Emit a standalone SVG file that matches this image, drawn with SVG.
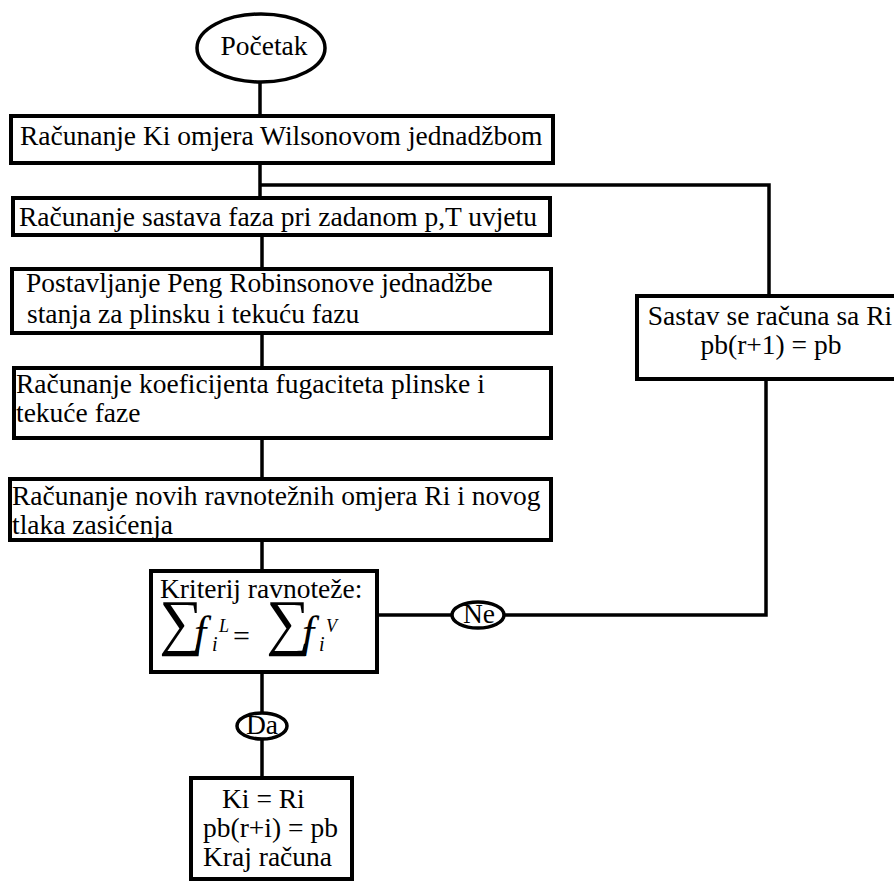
<svg xmlns="http://www.w3.org/2000/svg" width="894" height="882" viewBox="0 0 894 882">
<style>
  .box{fill:#fff;stroke:#000;stroke-width:4}
  .term{fill:#fff;stroke:#000;stroke-width:3.5}
  .t{font-family:"Liberation Serif","Times New Roman",serif;font-size:27.5px;fill:#000}
  .c{text-anchor:middle}
  .m{font-family:"Liberation Serif","Times New Roman",serif;fill:#000}
  .it{font-style:italic}
  .conn{fill:none;stroke:#000;stroke-width:3.5}
</style>
<rect width="894" height="882" fill="#fff"/>
<g id="connectors">
  <line class="conn" x1="260" y1="83" x2="260" y2="116"/>
  <line class="conn" x1="260" y1="163" x2="260" y2="198"/>
  <polyline class="conn" points="260,185 769,185 769,296"/>
  <line class="conn" x1="262" y1="235" x2="262" y2="269"/>
  <line class="conn" x1="262" y1="333" x2="262" y2="368"/>
  <line class="conn" x1="262" y1="438" x2="262" y2="479"/>
  <line class="conn" x1="262" y1="540" x2="262" y2="571"/>
  <line class="conn" x1="377" y1="615" x2="452" y2="615"/>
  <polyline class="conn" points="505,615 766,615 766,379"/>
  <line class="conn" x1="262" y1="672" x2="262" y2="713"/>
  <line class="conn" x1="262" y1="739" x2="262" y2="778"/>
</g>
<g id="start">
  <ellipse class="term" cx="261" cy="48" rx="64" ry="34"/>
  <text class="t c" x="264" y="55">Početak</text>
</g>
<g id="wilson">
  <rect class="box" x="11" y="116" width="542" height="47"/>
  <text class="t" x="20" y="145">Računanje Ki omjera Wilsonovom jednadžbom</text>
</g>
<g id="sastav">
  <rect class="box" x="13" y="198" width="537" height="37"/>
  <text class="t" x="19" y="226">Računanje sastava faza pri zadanom p,T uvjetu</text>
</g>
<g id="peng">
  <rect class="box" x="12" y="269" width="539" height="64"/>
  <text class="t" x="26" y="292">Postavljanje Peng Robinsonove jednadžbe</text>
  <text class="t" x="27" y="323">stanja za plinsku i tekuću fazu</text>
</g>
<g id="fugacitet">
  <rect class="box" x="14" y="368" width="537" height="70"/>
  <text class="t" x="16" y="393">Računanje koeficijenta fugaciteta plinske i</text>
  <text class="t" x="16" y="422">tekuće faze</text>
</g>
<g id="ravnoteza">
  <rect class="box" x="10" y="479" width="541" height="61"/>
  <text class="t" x="12" y="505">Računanje novih ravnotežnih omjera Ri i novog</text>
  <text class="t" x="12" y="534">tlaka zasićenja</text>
</g>
<g id="kriterij">
  <rect class="box" x="151" y="571" width="226" height="101"/>
  <text class="t" x="160" y="598">Kriterij ravnoteže:</text>
  <text class="m" x="159" y="643" font-size="62">∑</text>
  <text class="m it" x="194" y="647" font-size="44">f</text>
  <text class="m it" x="212" y="651" font-size="20">i</text>
  <text class="m it" x="219" y="632" font-size="18">L</text>
  <text class="m" x="233" y="646" font-size="30">=</text>
  <text class="m" x="266" y="643" font-size="62">∑</text>
  <text class="m it" x="302" y="647" font-size="44">f</text>
  <text class="m it" x="319" y="651" font-size="20">i</text>
  <text class="m it" x="326" y="632" font-size="18">V</text>
</g>
<g id="ne">
  <ellipse class="term" cx="478" cy="615" rx="26" ry="13"/>
  <text class="t c" x="479" y="623" font-size="26">Ne</text>
</g>
<g id="sastav-ri">
  <rect class="box" x="637" y="296" width="270" height="83"/>
  <text class="t c" x="770" y="325">Sastav se računa sa Ri</text>
  <text class="t c" x="771" y="354">pb(r+1) = pb</text>
</g>
<g id="da">
  <ellipse class="term" cx="262" cy="726" rx="25" ry="13"/>
  <text class="t c" x="262" y="734" font-size="26">Da</text>
</g>
<g id="kraj">
  <rect class="box" x="191" y="778" width="161" height="101"/>
  <text class="t" x="222" y="808">Ki = Ri</text>
  <text class="t" x="203" y="837">pb(r+i) = pb</text>
  <text class="t" x="203" y="866">Kraj računa</text>
</g>
</svg>
